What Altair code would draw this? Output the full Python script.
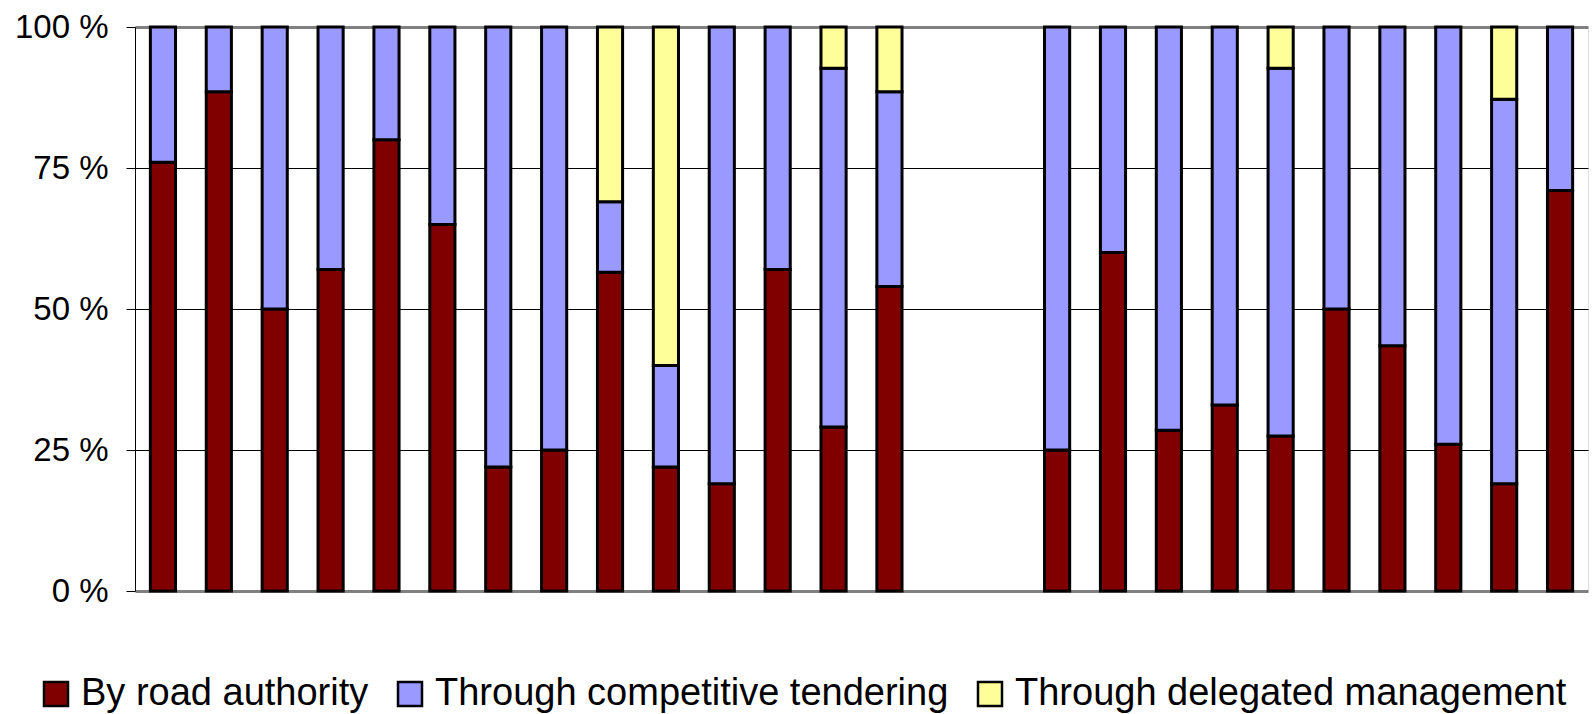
import altair as alt
import pandas as pd

# Slots along the x axis: 14 bars, two empty slots, then 10 bars
slots = [f"A{i:02d}" for i in range(1, 15)] + ["_s1", "_s2"] + [f"B{i:02d}" for i in range(1, 11)]
bar_ids = [s for s in slots if not s.startswith("_")]

series = ["By road authority", "Through competitive tendering", "Through delegated management"]
colors = ["#800000", "#9999FF", "#FFFF99"]

# Shares in percent, one value per bar
road_authority = [76, 88.5, 50, 57, 80, 65, 22, 25, 56.5, 22, 19, 57, 29.1, 54,
                  25, 60, 28.5, 33, 27.5, 50, 43.5, 26, 19, 71]
competitive_tendering = [24, 11.5, 50, 43, 20, 35, 78, 75, 12.5, 18, 81, 43, 63.6, 34.5,
                         75, 40, 71.5, 67, 65.2, 50, 56.5, 74, 68.2, 29]
delegated_management = [0, 0, 0, 0, 0, 0, 0, 0, 31, 60, 0, 0, 7.3, 11.5,
                        0, 0, 0, 0, 7.3, 0, 0, 0, 12.8, 0]

rows = []
for k, values in enumerate([road_authority, competitive_tendering, delegated_management]):
    for slot, v in zip(bar_ids, values):
        if v > 0:
            rows.append({"slot": slot, "series": series[k], "share": v, "ord": k})
df = pd.DataFrame(rows)

edge = "datum.value === 0 || datum.value === 100"

chart = (
    alt.Chart(df)
    .mark_bar(stroke="black", strokeWidth=3, strokeJoin="miter")
    .encode(
        x=alt.X("slot:N", sort=slots,
                scale=alt.Scale(domain=slots, paddingInner=0.55, paddingOuter=0.275),
                axis=None),
        y=alt.Y("share:Q", stack="zero",
                scale=alt.Scale(domain=[0, 100], nice=False),
                axis=alt.Axis(
                    values=[0, 25, 50, 75, 100],
                    labelExpr="datum.value + ' %'",
                    title=None,
                    labelFont="Liberation Sans",
                    labelFontSize=33,
                    labelColor="black",
                    labelPadding=18,
                    domainColor="black",
                    domainWidth=1,
                    tickColor="black",
                    tickSize=9,
                    tickWidth=1,
                    grid=True,
                    gridColor={"condition": {"test": edge, "value": "#808080"}, "value": "#000000"},
                    gridWidth={"condition": {"test": edge, "value": 3}, "value": 1},
                )),
        color=alt.Color("series:N",
                        scale=alt.Scale(domain=series, range=colors),
                        legend=alt.Legend(
                            title=None,
                            orient="none",
                            legendX=-98,
                            legendY=648,
                            direction="horizontal",
                            padding=0,
                            labelFont="Liberation Sans",
                            labelFontSize=38,
                            labelColor="black",
                            labelLimit=0,
                            labelOffset=6,
                            columnPadding=22,
                            symbolType="square",
                            symbolSize=576,
                            symbolStrokeColor="black",
                            symbolStrokeWidth=2.5,
                            symbolOpacity=1,
                        )),
        order=alt.Order("ord:Q", sort="ascending"),
    )
    .properties(
        width=1453,
        height=564,
        autosize=alt.AutoSizeParams(type="none"),
        padding={"left": 135, "top": 27, "right": 8, "bottom": 123},
    )
    .configure_view(stroke="#808080", strokeWidth=3)
    .configure(background="white")
)

chart.save("out.html", embed_options={"renderer": "svg", "actions": False})
